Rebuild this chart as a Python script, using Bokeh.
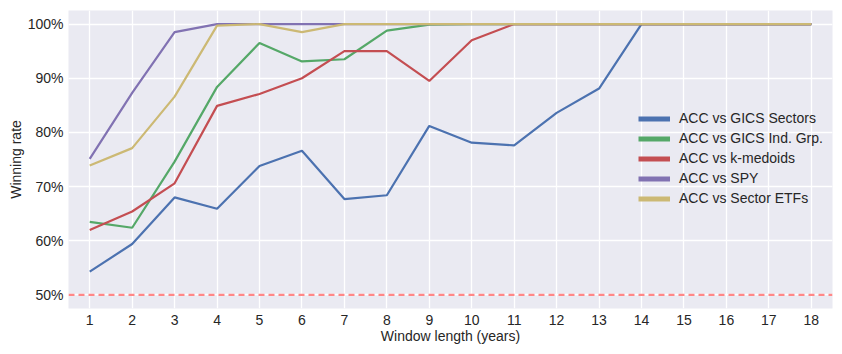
from bokeh.plotting import figure
from bokeh.models import FixedTicker, PrintfTickFormatter, Span, Range1d, Legend, LegendItem
from bokeh.embed import file_html
from bokeh.resources import INLINE

years = list(range(1, 19))
gics_sectors = [54.3, 59.4, 68.0, 65.9, 73.8, 76.6, 67.7, 68.4, 81.2, 78.1, 77.6, 83.6, 88.1, 100, 100, 100, 100, 100]
gics_ind_grp = [63.5, 62.4, 74.6, 88.4, 96.5, 93.1, 93.5, 98.8, 99.9, 100, 100, 100, 100, 100, 100, 100, 100, 100]
k_medoids = [62.0, 65.4, 70.6, 84.9, 87.1, 90.0, 95.0, 95.0, 89.5, 97.0, 100, 100, 100, 100, 100, 100, 100, 100]
spy = [75.1, 87.3, 98.5, 100, 100, 100, 100, 100, 100, 100, 100, 100, 100, 100, 100, 100, 100, 100]
sector_etfs = [73.9, 77.1, 86.6, 99.7, 100, 98.5, 100, 100, 100, 100, 100, 100, 100, 100, 100, 100, 100, 100]
baseline = 50
y_ticks = [50, 60, 70, 80, 90, 100]

series = [
    ("ACC vs GICS Sectors", gics_sectors, "#4C72B0"),
    ("ACC vs GICS Ind. Grp.", gics_ind_grp, "#55A868"),
    ("ACC vs k-medoids", k_medoids, "#C44E52"),
    ("ACC vs SPY", spy, "#8172B2"),
    ("ACC vs Sector ETFs", sector_etfs, "#CCB974"),
]

FONT = "Liberation Sans"

p = figure(width=842, height=354, output_backend="svg", toolbar_location=None,
           x_range=Range1d(0.5, 18.5), y_range=Range1d(47.5, 102.5))
p.min_border_left = 68
p.min_border_right = 10
p.min_border_top = 10
p.min_border_bottom = 46
p.background_fill_color = "#EAEAF2"
p.border_fill_color = "white"
p.outline_line_color = None

p.xgrid.grid_line_color = "white"
p.ygrid.grid_line_color = "white"
p.xgrid.grid_line_width = 1.3
p.ygrid.grid_line_width = 1.3

p.xaxis.ticker = FixedTicker(ticks=years)
p.yaxis.ticker = FixedTicker(ticks=y_ticks)
p.yaxis.formatter = PrintfTickFormatter(format="%d%%")
for ax in (p.xaxis, p.yaxis):
    ax.axis_line_color = None
    ax.major_tick_line_color = None
    ax.minor_tick_line_color = None
    ax.major_tick_out = 0
    ax.major_tick_in = 0
    ax.minor_tick_out = 0
    ax.minor_tick_in = 0
    ax.major_label_text_font = FONT
    ax.major_label_text_font_size = "14px"
    ax.major_label_text_color = "#262626"
    ax.axis_label_text_font = FONT
    ax.axis_label_text_font_size = "14px"
    ax.axis_label_text_font_style = "normal"
    ax.axis_label_text_color = "#262626"
p.xaxis.major_label_standoff = 6
p.yaxis.major_label_standoff = 5
p.xaxis.axis_label = "Window length (years)"
p.yaxis.axis_label = "Winning rate"
p.xaxis.axis_label_standoff = 0
p.yaxis.axis_label_standoff = 1

p.add_layout(Span(location=baseline, dimension="width", line_color="#FF8787",
                  line_width=2.2, line_dash="6 4"))

items = []
for name, vals, col in series:
    p.line(years, vals, line_color=col, line_width=2.2)
    dummy = p.line([1], [baseline], line_color=col, line_width=5, visible=False)
    items.append(LegendItem(label=name, renderers=[dummy]))

legend = Legend(items=items, location=(570, 102))
legend.background_fill_alpha = 0
legend.border_line_color = None
legend.label_text_font = FONT
legend.label_text_font_size = "14px"
legend.label_text_color = "#262626"
legend.glyph_width = 32
legend.glyph_height = 15
legend.label_height = 15
legend.spacing = 4
legend.padding = 4
legend.label_standoff = 9
p.add_layout(legend, "center")

open("out.html", "w").write(file_html(p, INLINE))
